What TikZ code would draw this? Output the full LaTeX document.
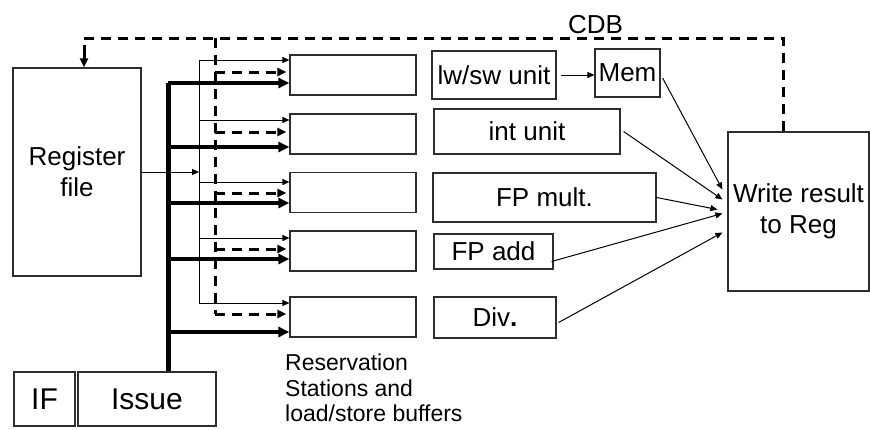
\documentclass[tikz,border=0pt]{standalone}
\usepackage{fontspec}
\setmainfont{Liberation Sans}
\usetikzlibrary{arrows.meta, calc}
\definecolor{boxborder}{HTML}{2E2E2E}
\definecolor{darkline}{HTML}{000000}
\tikzset{
  box/.style={rectangle, draw=boxborder, fill=white, line width=1.2pt,
              inner sep=0pt, align=center, font=\fontsize{26}{31}\selectfont},
  rsbox/.style={box, minimum width=126pt, minimum height=40pt},
  stagebox/.style={box, font=\fontsize{30}{34}\selectfont},
  lbl/.style={font=\fontsize{26}{31}\selectfont, inner sep=0pt},
  note/.style={font=\fontsize{23}{25.5}\selectfont, align=left, inner sep=0pt},
  thinarr/.style={-{Triangle[length=7pt, width=6pt]}, line width=1pt, draw=darkline},
  issuearr/.style={-{Triangle[length=11pt, width=10pt]}, line width=3.5pt, draw=darkline},
  issuebus/.style={line width=5pt, draw=darkline},
  regbus/.style={line width=1pt, draw=darkline},
  cdbline/.style={dash pattern=on 10pt off 7pt, line width=3pt, draw=darkline},
  cdbarr/.style={cdbline, -{Triangle[length=9pt, width=8pt]}},
}
\def\rsx{353}
\def\regx{199}
\def\issx{168}
\def\cdbx{215}
\def\cdby{38}

\begin{document}
\begin{tikzpicture}[x=1pt, y=-1pt]
\useasboundingbox (0,0) rectangle (870,429);

% Front end
\node[box, minimum width=128pt, minimum height=208pt] (regfile) at (77,172) {Register\\file};
\node[stagebox, minimum width=61pt, minimum height=54pt] (ifbox) at (44.5,399) {IF};
\node[stagebox, minimum width=138pt, minimum height=54pt] (issue) at (147,399) {Issue};

% Reservation stations
\foreach \i/\y in {1/75, 2/134, 3/192.5, 4/251, 5/317} {
  \node[rsbox] (rs\i) at (\rsx,\y) {};
}
\node[note, anchor=north west] (rsnote) at (285,354) {Reservation\\Stations and\\load/store buffers};

% Functional units
\node[box, minimum width=124pt, minimum height=48pt] (lwsw) at (494,75) {lw/sw unit};
\node[box, minimum width=65pt, minimum height=48pt] (mem) at (627.5,73) {Mem};
\node[box, minimum width=186pt, minimum height=45pt] (intu) at (527,131.5) {int unit};
\node[box, minimum width=223pt, minimum height=49pt] (fpmul) at (544.5,197.5) {FP mult.};
\node[box, minimum width=119pt, minimum height=35pt] (fpadd) at (493.5,251.5) {FP add};
\node[box, minimum width=122pt, minimum height=41pt] (divu) at (495,317.5) {Div\textbf{.}};
\node[box, minimum width=141pt, minimum height=159pt] (wres) at (798.5,211.5) {Write result\\to Reg};

% Buses
\coordinate (regtop) at (\regx,60);
\coordinate (regbot) at (\regx,303);
\coordinate (isstop) at (\issx,83);
\coordinate (cdbleft) at (84,\cdby);
\coordinate (cdbtap) at (\cdbx,\cdby);
\coordinate (cdbright) at (783,\cdby);
\coordinate (cdbbot) at (\cdbx,314);

\draw[regbus] (regtop) -- (regbot);
\draw[thinarr] (regfile.east) -- (regfile.east -| regtop);
\draw[issuebus] (issue.north -| isstop) -- (isstop);

% Feeds into each station: operands, tags from CDB, issued instruction
\foreach \i/\a/\b/\c in {1/60/72/83, 2/120/132/147, 3/182/193/203, 4/238/249/259, 5/303/314/332} {
  \draw[thinarr] (\regx,\a) -- (rs\i.west |- 0,\a);
  \draw[cdbarr] (\cdbx,\b) -- ($(rs\i.west |- 0,\b)+(-3,0)$);
  \draw[issuearr] (\issx,\c) -- (rs\i.west |- 0,\c);
}

% Common data bus
\draw[cdbline] (wres.north -| cdbright) -- (cdbright) -- (cdbleft) -- ($(cdbleft)+(0,14)$);
\draw[cdbarr] ($(cdbleft)+(0,14)$) -- (regfile.north -| cdbleft);
\draw[cdbline] (cdbtap) -- (cdbbot);
\node[lbl, anchor=base] (cdb) at (595.5,33) {CDB};

% Results
\draw[thinarr, shorten <=4pt] (lwsw.east) -- (lwsw.east -| mem.west);
\draw[thinarr] ($(mem.east)+(2,5)$) -- ($(wres.west)+(-5,-22)$);
\draw[thinarr] ($(intu.east)+(3,0)$) -- ($(wres.west)+(-5,-12)$);
\draw[thinarr] (fpmul.east) -- ($(wres.west)+(-10,-2)$);
\draw[thinarr] ($(fpadd.east)+(-2,10)$) -- ($(wres.west)+(-5,2)$);
\draw[thinarr] ($(divu.east)+(2,5)$) -- ($(wres.west)+(-5,21)$);

\end{tikzpicture}
\end{document}
